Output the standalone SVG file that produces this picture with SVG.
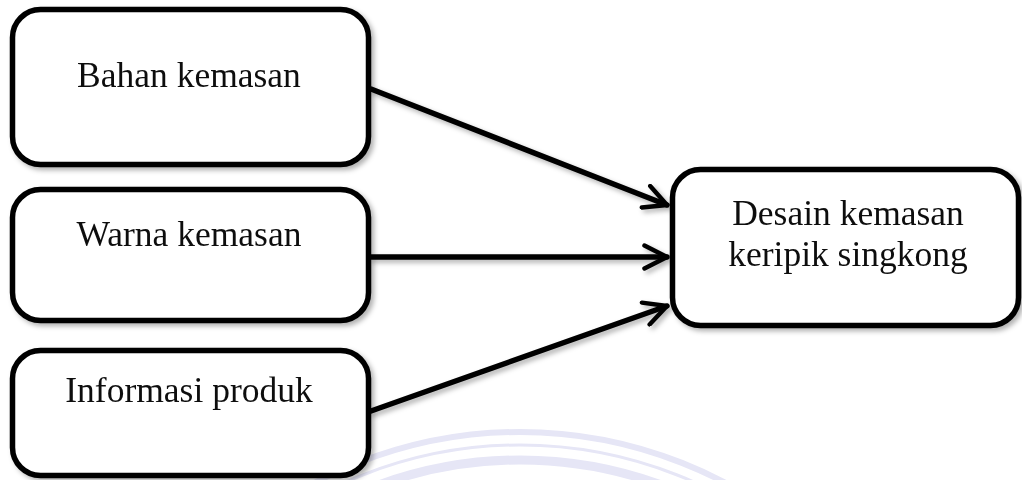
<svg xmlns="http://www.w3.org/2000/svg" width="1022" height="480" viewBox="0 0 1022 480">
<style>
.box{fill:#fff;stroke:#000;stroke-width:5.5}
.lbl{font-family:"Liberation Serif","Times New Roman",serif;font-size:35.5px;fill:#111;text-anchor:middle}
.con{stroke:#000;stroke-width:5.5;fill:none;stroke-linecap:round;stroke-linejoin:round}
.wm{fill:none;stroke:#e6e6f6}
</style>
<defs>
<filter id="sh" x="-10%" y="-10%" width="130%" height="140%">
<feDropShadow dx="3" dy="3" stdDeviation="2.5" flood-color="#000" flood-opacity="0.3"/>
</filter>
<marker id="ah" viewBox="0 0 10 10" refX="9.2" refY="5" markerWidth="5" markerHeight="5" markerUnits="strokeWidth" orient="auto">
<path d="M1,0.8 L9.2,5 L1,9.2" fill="none" stroke="#000" stroke-width="1.6" stroke-linecap="round" stroke-linejoin="round"/>
</marker>
</defs>
<rect width="1022" height="480" fill="#fff"/>
<g id="watermark">
<circle class="wm" cx="520" cy="872" r="440" stroke-width="6"/>
<circle class="wm" cx="520" cy="872" r="427" stroke-width="3"/>
<circle class="wm" cx="520" cy="872" r="412" stroke-width="9"/>
</g>
<g id="connectors" filter="url(#sh)">
<line class="con" x1="371" y1="89" x2="667" y2="205" marker-end="url(#ah)"/>
<line class="con" x1="371" y1="257" x2="667" y2="257" marker-end="url(#ah)"/>
<line class="con" x1="371" y1="411" x2="667" y2="306" marker-end="url(#ah)"/>
</g>
<g id="n1" filter="url(#sh)">
<rect class="box" x="12.5" y="9.5" width="356" height="155" rx="28"/>
<text class="lbl" x="189" y="87">Bahan kemasan</text>
</g>
<g id="n2" filter="url(#sh)">
<rect class="box" x="12.5" y="189.5" width="356" height="131" rx="28"/>
<text class="lbl" x="189" y="246">Warna kemasan</text>
</g>
<g id="n3" filter="url(#sh)">
<rect class="box" x="12.5" y="350.5" width="356" height="125" rx="28"/>
<text class="lbl" x="189" y="402">Informasi produk</text>
</g>
<g id="n4" filter="url(#sh)">
<rect class="box" x="672.5" y="169.5" width="346" height="156" rx="28"/>
<text class="lbl" x="848" y="225">Desain kemasan</text>
<text class="lbl" x="848" y="266">keripik singkong</text>
</g>
</svg>
